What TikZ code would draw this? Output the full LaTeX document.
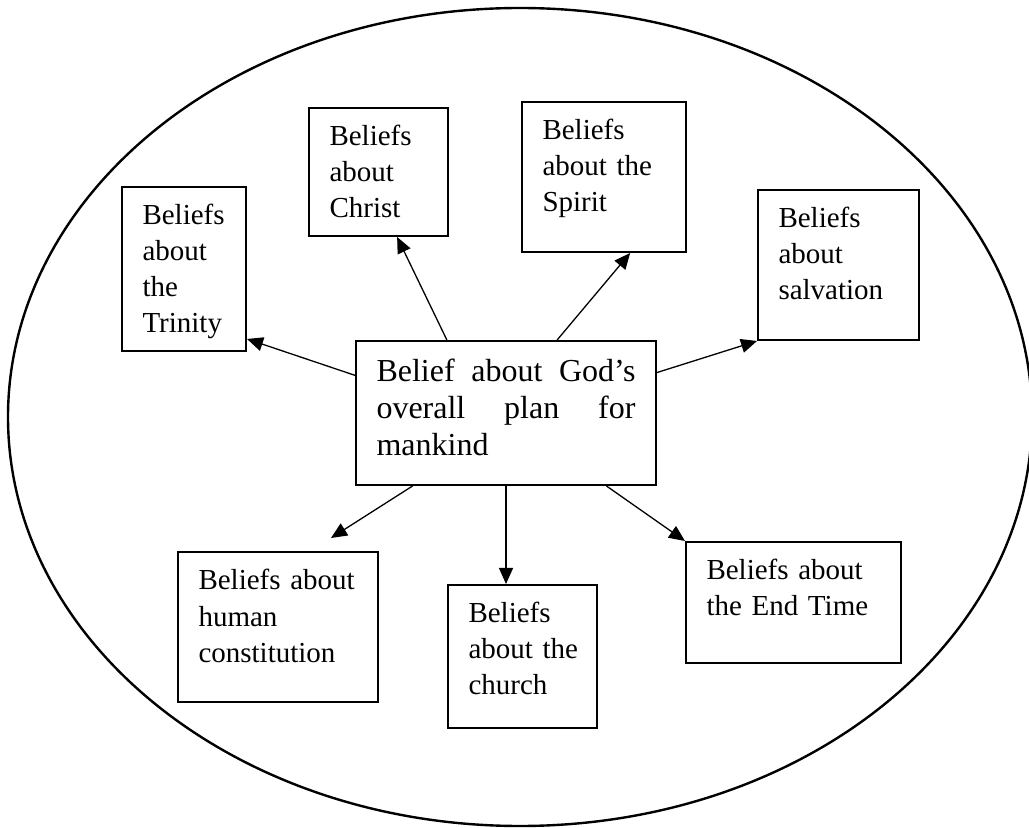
\documentclass[tikz,border=0pt]{standalone}
\usepackage{fontspec}
\setmainfont{Liberation Serif}
\usetikzlibrary{arrows.meta}
\tikzset{
  beliefbox/.style={draw, line width=1pt, anchor=north west, align=left,
    inner xsep=10.25pt, inner ysep=0pt, text height=19pt,
    font=\fontsize{14.5}{18}\selectfont},
  tip/.style={-{Triangle[length=8pt,width=7pt]}, line width=0.65pt}
}

\begin{document}
\begin{tikzpicture}[x=0.5pt, y=-0.5pt]
  \useasboundingbox (0,0) rectangle (1029,828);
  \draw[line width=1.2pt] (520,417) ellipse [x radius=256pt, y radius=204.5pt];

  \node[beliefbox, text height=20.3pt, text width=129.5pt, text depth=51.7pt,
    font=\fontsize{16}{18.5}\selectfont] (core) at (355,340)
    {Belief\hfill about\hfill God’s\\ overall\hfill plan\hfill for\\ mankind};

  \node[beliefbox, text width=41.5pt, text depth=63pt] (trinity) at (121,186) {Beliefs\\ about\\ the\\ Trinity};
  \node[beliefbox, text width=49pt, text depth=45pt] (christ) at (308,107) {Beliefs\\ about\\ Christ};
  \node[beliefbox, text width=61.5pt, text depth=56pt] (spirit) at (521,101) {Beliefs\\ about~the\\ Spirit};
  \node[beliefbox, text width=60pt, text depth=56pt] (salvation) at (757,189) {Beliefs\\ about\\ salvation};
  \node[beliefbox, text width=79.5pt, text depth=56pt] (human) at (177,551) {Beliefs~about\\ human\\ constitution};
  \node[beliefbox, text width=54pt, text depth=52.5pt] (church) at (447,584) {Beliefs\\ about~the\\ church};
  \node[beliefbox, text width=87pt, text depth=41.5pt] (endtime) at (685,541) {Beliefs~about\\ the End Time};

  % arrows out of the central belief
  \draw[tip] (core.166) -- (trinity.312);
  \draw[tip] (core.129) -- (christ.286);
  \draw[tip] (core.55) -- (spirit.289);
  \draw[tip] (core.15) -- (salvation.south west);
  \draw[tip] (core.218) -- ([xshift=26.5pt, yshift=6.5pt]human.north);
  \draw[tip] (core.south) -- (core.south |- church.north);
  \draw[tip] (core.324) -- (endtime.north west);
\end{tikzpicture}
\end{document}
